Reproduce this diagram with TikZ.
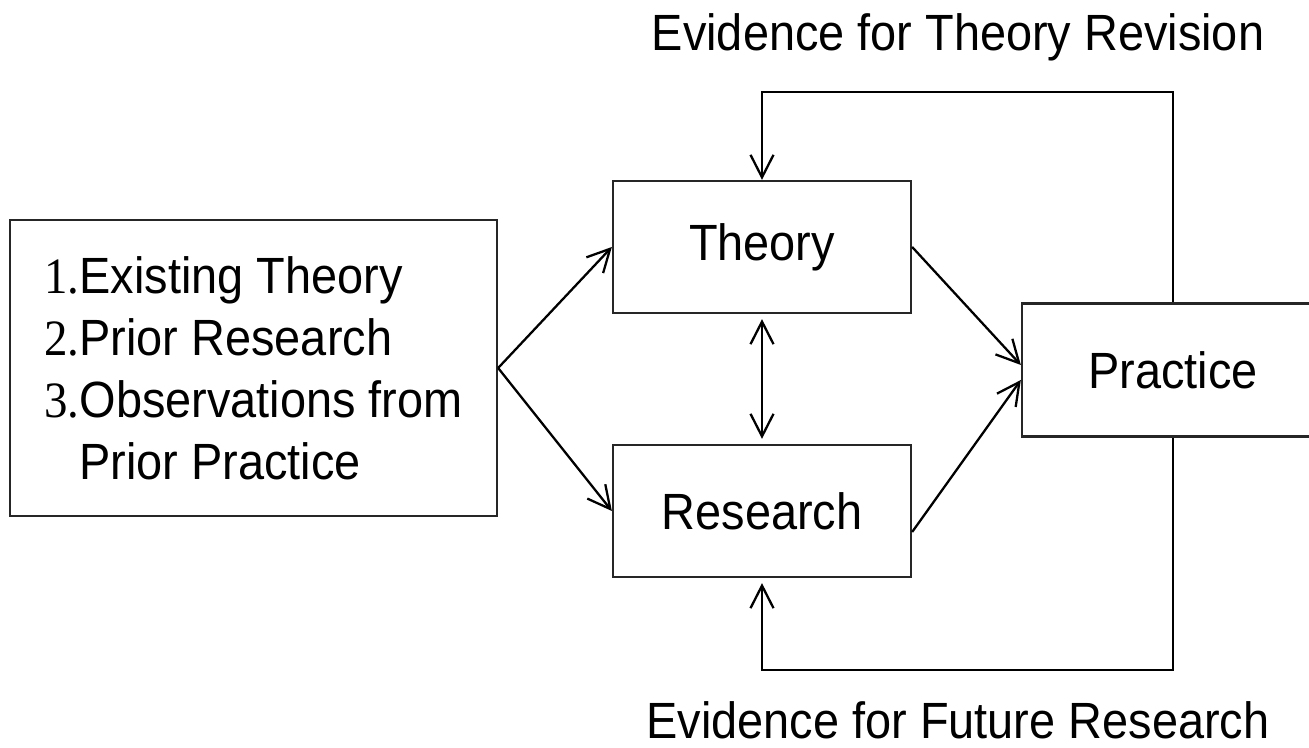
\documentclass[tikz,border=0pt]{standalone}
\usepackage{fontspec}
\setmainfont{Liberation Sans}[FakeStretch=0.92]
\newfontfamily\numfont{Liberation Serif}[FakeStretch=0.92]
\usepackage{tikz}
\usetikzlibrary{arrows.meta, positioning, calc}

\begin{document}
\begin{tikzpicture}[
        >={Straight Barb[length=4.5mm, width=4.6mm]},
        line width=1.3pt,
        font=\fontsize{29}{35.3}\selectfont,
        box/.style={rectangle, draw=black!85, fill=white, minimum width=5.96cm, minimum height=2.64cm, align=center},
        note/.style={anchor=base, align=center}
    ]
        % Rand
        \fill[white] (0, 0) rectangle (26.18, 14.96);
        \useasboundingbox (0, 0) rectangle (26.18, 14.96);

        % Ausgangspunkte
        \node[box, minimum width=9.74cm, minimum height=5.92cm, align=left] (src) at (5.07, 7.6) {{\numfont 1.}Existing Theory\\ {\numfont 2.}Prior Research\\ {\numfont 3.}Observations from\\ \phantom{\numfont 3.}Prior Practice};

        % Theorie und Forschung
        \node[box] (theory) at (15.24, 10.02) {Theory};
        \node[box] (research) at (15.24, 4.74) {Research};

        % Praxis
        \node[box, minimum width=6.04cm, minimum height=2.66cm] (practice) at (23.46, 7.56) {Practice};

        % Beschriftung
        \node[note] (revision) at (19.16, 13.95) {Evidence for Theory Revision};
        \node[note] (future) at (19.16, 0.18) {Evidence for Future Research};

        \coordinate (revtop) at (19, 13.12);
        \coordinate (futbot) at (19, 1.56);

        % Pfeile
        \draw[->] (src.east) -- (theory.west);
        \draw[->] (src.east) -- (research.west);

        \draw[<->, shorten >=1mm, shorten <=1mm] (theory) -- (research);

        \draw[->] (theory.east) -- ([yshift=1mm]practice.west);
        \draw[->] ([yshift=-4.2mm]research.east) -- ([yshift=-2mm]practice.west);

        % Rueckkopplung
        \draw[->] (practice.north) |- (revtop) -| (theory.north);
        \draw[->, shorten >=1mm] (practice.south) |- (futbot) -| (research.south);

    \end{tikzpicture}
\end{document}
